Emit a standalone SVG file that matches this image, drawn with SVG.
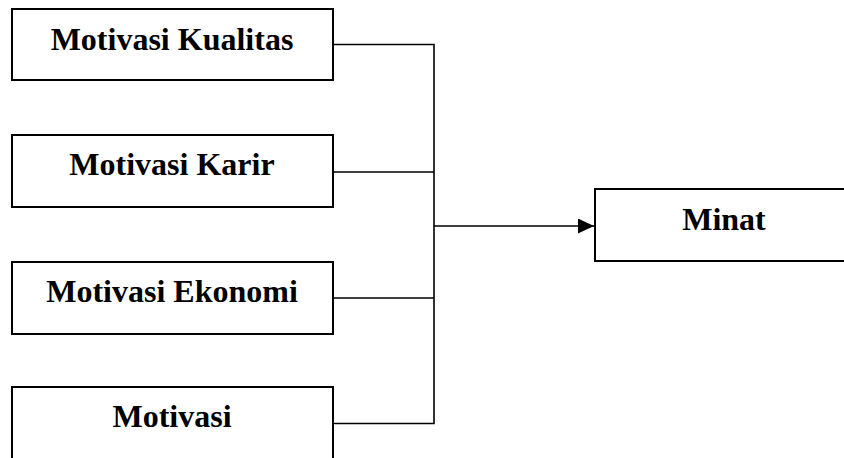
<svg xmlns="http://www.w3.org/2000/svg" width="844" height="458" viewBox="0 0 844 458">
<style>
.box{fill:#fff;stroke:#000;stroke-width:2}
text{font-family:'Liberation Serif',Tinos,'Times New Roman',serif;font-weight:700;font-size:32px;fill:#000;text-anchor:middle}
.ln{fill:none;stroke:#000;stroke-width:1.6}
</style>
<defs>
<marker id="arr" viewBox="0 0 16 15" refX="16" refY="7.5" markerWidth="16" markerHeight="15" markerUnits="userSpaceOnUse" orient="auto">
<path d="M0,0 L16,7.5 L0,15 Z" fill="#000"/>
</marker>
</defs>
<rect width="844" height="458" fill="#fff"/>
<g id="n1"><rect class="box" x="12" y="9" width="321" height="71"/><text x="172" y="50">Motivasi Kualitas</text></g>
<g id="n2"><rect class="box" x="12" y="135" width="321" height="72"/><text x="172" y="175">Motivasi Karir</text></g>
<g id="n3"><rect class="box" x="12" y="262" width="321" height="72"/><text x="172" y="302">Motivasi Ekonomi</text></g>
<g id="n4"><rect class="box" x="12" y="387" width="321" height="80"/><text x="172" y="427">Motivasi</text></g>
<g id="n5"><rect class="box" x="595" y="189" width="260" height="72"/><text x="724" y="230">Minat</text></g>
<g id="connectors">
<path class="ln" d="M333,44.5 H434 V423.5 H333"/>
<path class="ln" d="M333,172 H434"/>
<path class="ln" d="M333,298 H434"/>
<path class="ln" d="M434,226 H594" marker-end="url(#arr)"/>
</g>
</svg>
